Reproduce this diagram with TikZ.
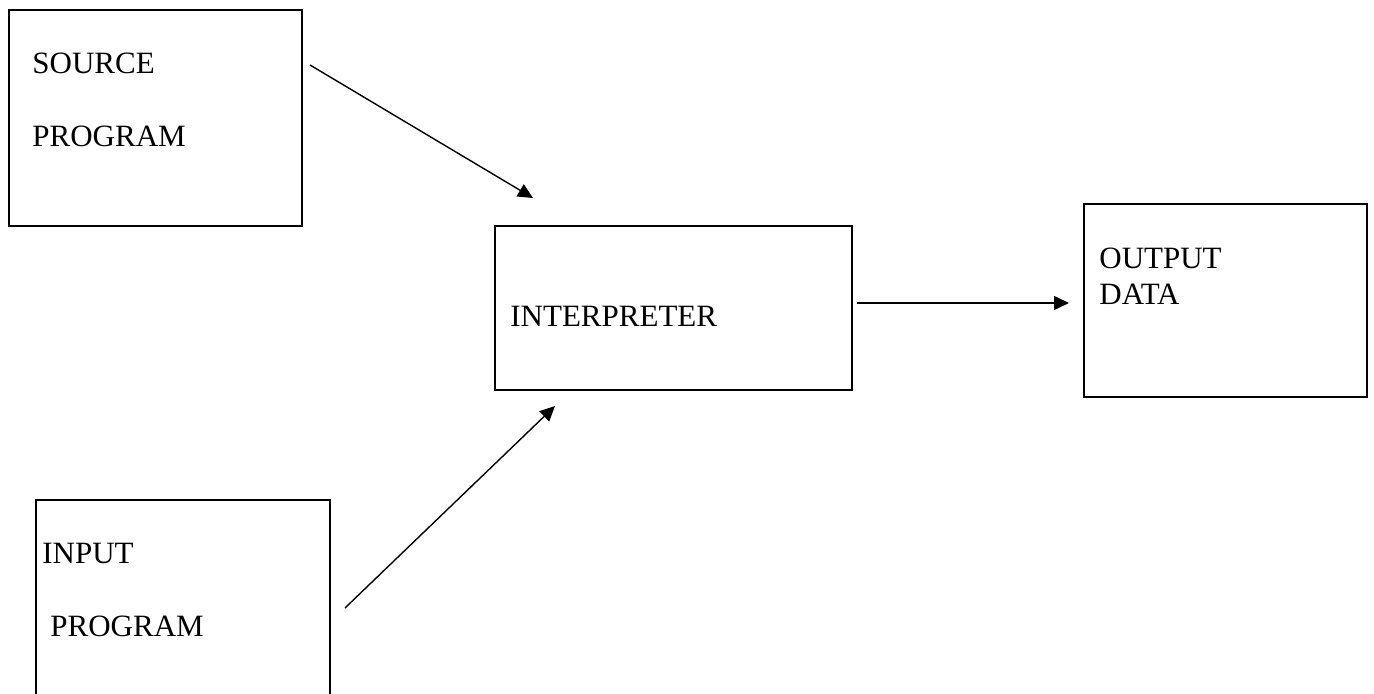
\documentclass[tikz,border=0pt]{standalone}
\usepackage{fontspec}
\setmainfont{Liberation Serif}
\usetikzlibrary{arrows.meta}
\begin{document}
\begin{tikzpicture}[x=0.5pt,y=-0.5pt,
  box/.style={draw=black,line width=1pt,inner sep=0pt,outer sep=0pt},
  lbl/.style={anchor=base west,inner sep=0pt,font=\fontsize{15.5pt}{18pt}\selectfont},
  flow/.style={line width=0.7pt,-{Triangle[length=7.5pt,width=7pt]}}]
\useasboundingbox (0,0) rectangle (1374,694);
\clip (0,0) rectangle (1374,694);
% boxes
\draw[box] (9,10) rectangle (302,226) coordinate (srcbox);
\draw[box] (495,226) rectangle (852,390) coordinate (intbox);
\draw[box] (1084,204) rectangle (1367,397) coordinate (outbox);
\draw[box] (36,500) rectangle (330,720) coordinate (inbox);
% labels
\node[lbl] (src1) at (32,74) {SOURCE};
\node[lbl] (src2) at (32,147) {PROGRAM};
\node[lbl] (intl) at (510,327) {INTERPRETER};
\node[lbl] (out1) at (1099,269) {OUTPUT};
\node[lbl] (out2) at (1099,305) {DATA};
\node[lbl] (in1) at (42,563) {INPUT};
\node[lbl] (in2) at (50,636) {PROGRAM};
% connector end points
\coordinate (a1s) at (310,65);
\coordinate (a1e) at (533,198);
\coordinate (a2s) at (345,608);
\coordinate (a2e) at (555,406);
\coordinate (a3s) at (857,303);
\coordinate (a3e) at (1069,303);
% connectors
\draw[flow] (a1s) -- (a1e);
\draw[flow] (a2s) -- (a2e);
\draw[flow] (a3s) -- (a3e);
\end{tikzpicture}
\end{document}
